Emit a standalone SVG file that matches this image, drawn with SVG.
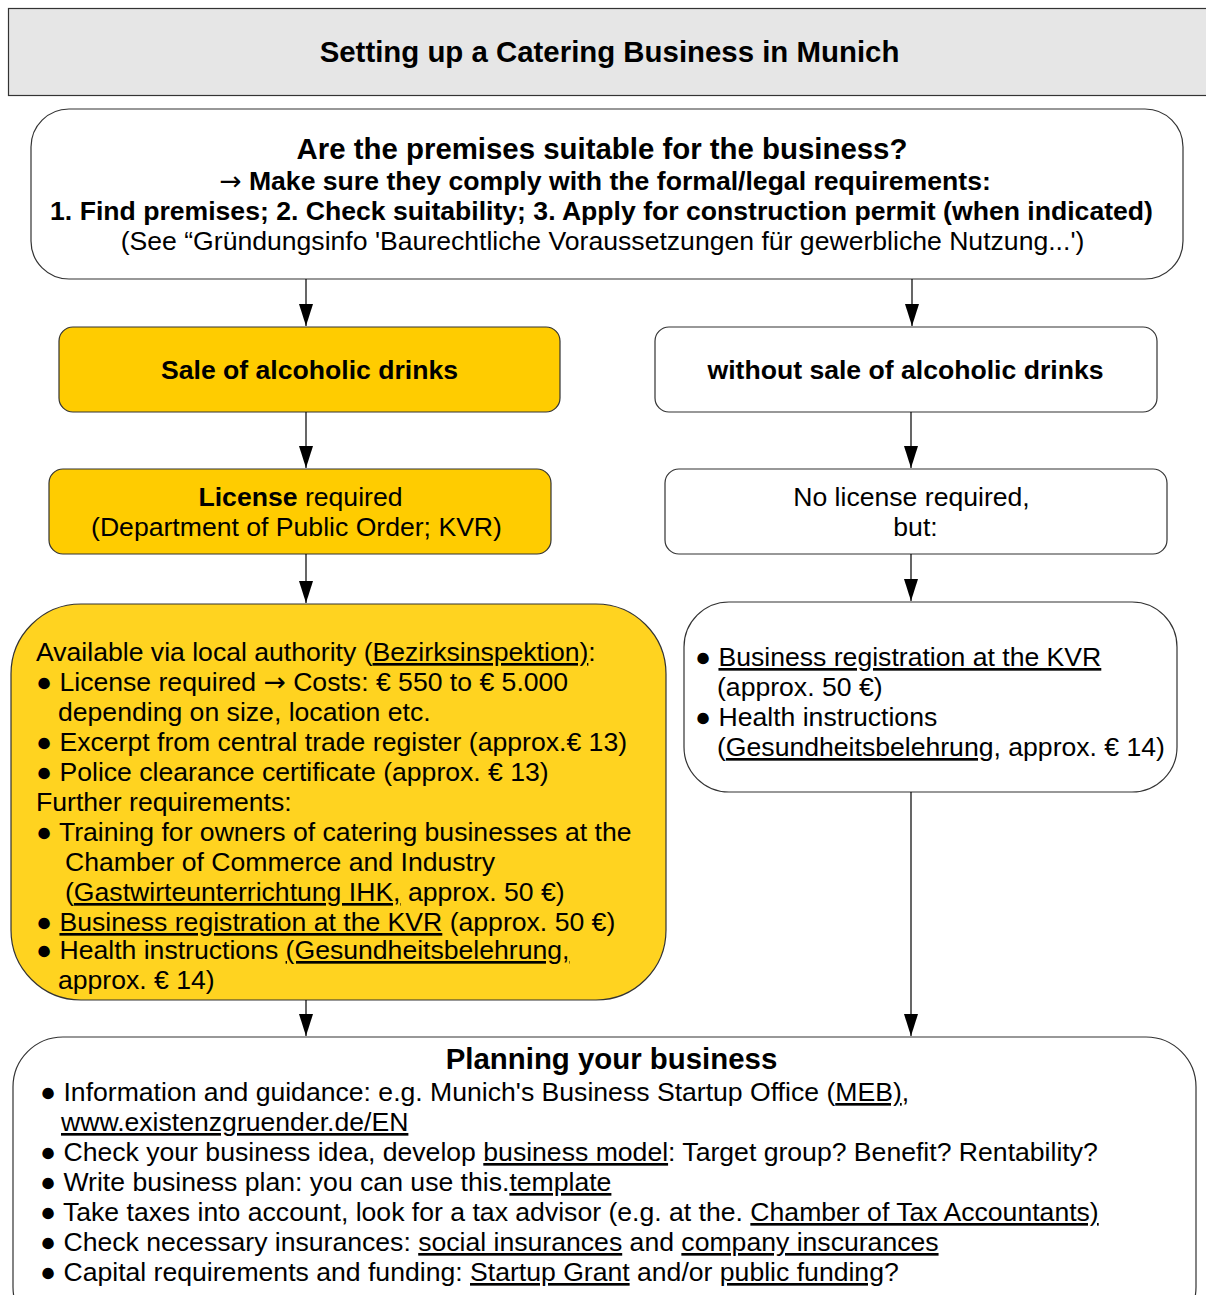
<svg xmlns="http://www.w3.org/2000/svg" width="1206" height="1295" viewBox="0 0 1206 1295">
<defs>
<style>
text{font-family:"Liberation Sans",Arial,sans-serif;fill:#000}
.b{font-weight:bold}
.box{stroke:#333;stroke-width:1.2}
.w{fill:#fff}
.y{fill:#ffcc00}
.y2{fill:#ffd320}
.u{text-decoration:underline}
.c{text-anchor:middle}
.t{font-size:26.6px}
.h{font-size:29.4px}
.ar{font-family:"DejaVu Sans",sans-serif;font-weight:normal}
.conn line{stroke:#000;stroke-width:1.2}
</style>
<marker id="ah" markerUnits="userSpaceOnUse" markerWidth="24" markerHeight="16" refX="22" refY="7" orient="auto" viewBox="0 0 24 16">
<path d="M0,0 L22,7 L0,14 z" fill="#000"/>
</marker>
</defs>
<rect width="1206" height="1295" fill="#fff"/>

<g id="title">
<rect x="8.5" y="8.5" width="1205" height="87" fill="#e6e6e6" stroke="#333" stroke-width="1.2"/>
<text x="609.5" y="62" class="b c h">Setting up a Catering Business in Munich</text>
</g>

<g id="premises">
<rect x="31" y="109" width="1152" height="170" rx="38" class="box w"/>
<text x="602" y="159" class="b c h">Are the premises suitable for the business?</text>
<text x="605" y="190" class="b c t"><tspan class="ar">→</tspan> Make sure they comply with the formal/legal requirements:</text>
<text x="601.5" y="220" class="b c t">1. Find premises; 2. Check suitability; 3. Apply for construction permit (when indicated)</text>
<text x="602.5" y="250" class="c t">(See “Gründungsinfo 'Baurechtliche Voraussetzungen für gewerbliche Nutzung...')</text>
</g>

<g id="alcohol">
<rect x="59" y="327" width="501" height="85" rx="14" class="box y"/>
<text x="309.5" y="379" class="b c t">Sale of alcoholic drinks</text>
</g>

<g id="noalcohol">
<rect x="655" y="327" width="502" height="85" rx="14" class="box w"/>
<text x="905.5" y="379" class="b c t">without sale of alcoholic drinks</text>
</g>

<g id="license">
<rect x="49" y="469" width="502" height="85" rx="14" class="box y"/>
<text x="300.5" y="506" class="c t"><tspan class="b">License</tspan> required</text>
<text x="296.5" y="536" class="c t">(Department of Public Order; KVR)</text>
</g>

<g id="nolicense">
<rect x="665" y="469" width="502" height="85" rx="14" class="box w"/>
<text x="911.5" y="506" class="c t">No license required,</text>
<text x="915.5" y="536" class="c t">but:</text>
</g>

<g id="requirements">
<rect x="11" y="604" width="655" height="396" rx="70" class="box y2"/>
<text x="36" y="661" class="t">Available via local authority (<tspan class="u">Bezirksinspektion)</tspan>:</text>
<text x="36" y="691" class="t">● License required <tspan class="ar">→</tspan> Costs: € 550 to € 5.000</text>
<text x="58" y="721" class="t">depending on size, location etc.</text>
<text x="36" y="751" class="t">● Excerpt from central trade register (approx.€ 13)</text>
<text x="36" y="781" class="t">● Police clearance certificate (approx. € 13)</text>
<text x="36" y="811" class="t">Further requirements:</text>
<text x="36" y="841" class="t">● Training for owners of catering businesses at the</text>
<text x="65" y="871" class="t">Chamber of Commerce and Industry</text>
<text x="65" y="901" class="t">(<tspan class="u">Gastwirteunterrichtung IHK,</tspan> approx. 50 €)</text>
<text x="36" y="931" class="t">● <tspan class="u">Business registration at the KVR</tspan> (approx. 50 €)</text>
<text x="36" y="959" class="t">● Health instructions <tspan class="u">(Gesundheitsbelehrung,</tspan></text>
<text x="58" y="989" class="t">approx. € 14)</text>
</g>

<g id="registration">
<rect x="684" y="602" width="493" height="190" rx="45" class="box w"/>
<text x="695" y="666" class="t">● <tspan class="u">Business registration at the KVR</tspan></text>
<text x="717" y="696" class="t">(approx. 50 €)</text>
<text x="695" y="726" class="t">● Health instructions</text>
<text x="717" y="756" class="t">(<tspan class="u">Gesundheitsbelehrung</tspan>, approx. € 14)</text>
</g>

<g id="planning">
<rect x="13" y="1037" width="1183" height="300" rx="50" class="box w"/>
<text x="611.5" y="1069" class="b c h">Planning your business</text>
<text x="40" y="1101" class="t">● Information and guidance: e.g. Munich's Business Startup Office (<tspan class="u">MEB)</tspan>,</text>
<text x="61" y="1131" class="t u">www.existenzgruender.de/EN</text>
<text x="40" y="1161" class="t">● Check your business idea, develop <tspan class="u">business model</tspan>: Target group? Benefit? Rentability?</text>
<text x="40" y="1191" class="t">● Write business plan: you can use this.<tspan class="u">template</tspan></text>
<text x="40" y="1221" class="t">● Take taxes into account, look for a tax advisor (e.g. at the. <tspan class="u">Chamber of Tax Accountants)</tspan></text>
<text x="40" y="1251" class="t">● Check necessary insurances: <tspan class="u">social insurances</tspan> and <tspan class="u">company inscurances</tspan></text>
<text x="40" y="1281" class="t">● Capital requirements and funding: <tspan class="u">Startup Grant</tspan> and/or <tspan class="u">public funding</tspan>?</text>
</g>

<g id="connectors" class="conn">
<line x1="306" y1="279" x2="306" y2="326" marker-end="url(#ah)"/>
<line x1="912" y1="279" x2="912" y2="326" marker-end="url(#ah)"/>
<line x1="306" y1="412" x2="306" y2="468" marker-end="url(#ah)"/>
<line x1="911" y1="412" x2="911" y2="468" marker-end="url(#ah)"/>
<line x1="306" y1="554" x2="306" y2="603" marker-end="url(#ah)"/>
<line x1="911" y1="554" x2="911" y2="601" marker-end="url(#ah)"/>
<line x1="306" y1="1000" x2="306" y2="1036" marker-end="url(#ah)"/>
<line x1="911" y1="792" x2="911" y2="1036" marker-end="url(#ah)"/>
</g>
</svg>
